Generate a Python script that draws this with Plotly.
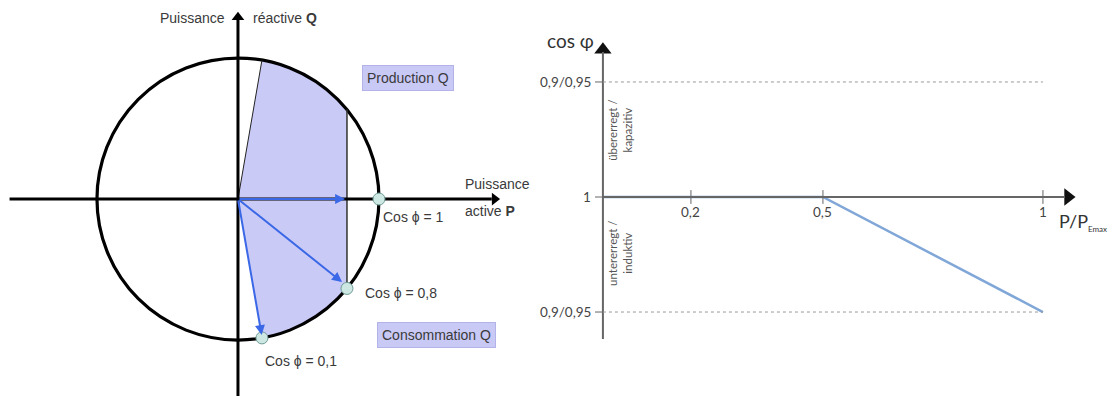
import numpy as np
import plotly.graph_objects as go

# ── left diagram data (unit circle = apparent power S) ──────────────────────
point_labels = ["Cos ϕ = 1", "Cos ϕ = 0,8", "Cos ϕ = 0,1"]
point_p = [1.0, 0.773, 0.17]          # active power P of the operating points
point_q = [0.0, -0.634, -0.985]       # reactive power Q of the operating points
vector_p = [0.76, 0.738, 0.168]       # tips of the blue vectors
vector_q = [0.0, -0.589, -0.965]
limit_p = 0.773                       # vertical P limit line
upper_p, upper_q = 0.17, 0.985        # upper edge of the production zone

# ── right diagram data (cos phi characteristic) ─────────────────────────────
ratio = [0, 0.5, 1]                   # P / P_Emax
cosphi_level = [0, 0, -1]             # 0 -> cos phi 1, -1 -> 0,9/0,95 inductive
x_ticks = [0.2, 0.5, 1]
x_tick_labels = ["0,2", "0,5", "1"]
y_levels = [1, 0, -1]
y_level_labels = ["0,9/0,95", "1", "0,9/0,95"]

LEFT_FONT = dict(family="Liberation Sans, Arial", size=14, color="#3a3a3a")
RIGHT_FONT = dict(family="Lato, Open Sans", size=13.5, color="#444")
W, H = 1108, 388           # page body has an 8px margin
SPLIT = 532 / W

fig = go.Figure()

# shaded operating zone: origin -> upper edge -> arc -> limit line -> arc -> cos 0.1
a_top = np.arctan2(upper_q, upper_p)
a_lim = np.arctan2(np.sqrt(1 - limit_p ** 2), limit_p)
a_bot = np.arctan2(point_q[2], point_p[2])
arc1 = np.linspace(a_top, a_lim, 40)
arc2 = np.linspace(-a_lim, a_bot, 40)
zone_x = np.concatenate([[0], np.cos(arc1), np.cos(arc2), [0]])
zone_y = np.concatenate([[0], np.sin(arc1), np.sin(arc2), [0]])
fig.add_trace(go.Scatter(x=zone_x, y=zone_y, mode="lines", fill="toself",
                         fillcolor="#cacaf7", line=dict(width=0),
                         hoverinfo="skip", xaxis="x", yaxis="y"))

shapes = [
    dict(type="circle", xref="x", yref="y", x0=-1, x1=1, y0=-1, y1=1,
         line=dict(color="black", width=3.2)),
    dict(type="line", xref="x", yref="y", x0=0, y0=0, x1=upper_p, y1=upper_q,
         line=dict(color="#222", width=1)),
    dict(type="line", xref="x", yref="y", x0=limit_p, x1=limit_p,
         y0=-np.sqrt(1 - limit_p ** 2), y1=np.sqrt(1 - limit_p ** 2),
         line=dict(color="#333", width=1.5)),
    # axes
    dict(type="line", xref="x", yref="y", x0=-1.62, x1=1.80, y0=0, y1=0,
         line=dict(color="black", width=3)),
    dict(type="line", xref="x", yref="y", x0=0, x1=0, y0=-1.40, y1=1.27,
         line=dict(color="black", width=3)),
    # right diagram axes
    dict(type="line", xref="x2", yref="y2", x0=0, x1=0, y0=-1.235, y1=1.26,
         line=dict(color="#666", width=2)),
    dict(type="line", xref="x2", yref="y2", x0=0, x1=1.05, y0=0, y1=0,
         line=dict(color="#666", width=2)),
]
for lv in (1, -1):
    shapes.append(dict(type="line", xref="x2", yref="y2", x0=0, x1=1, y0=lv, y1=lv,
                       line=dict(color="#999", width=1, dash="dot")))
for lv in y_levels:
    shapes.append(dict(type="line", xref="x2", yref="y2", x0=-0.018, x1=0, y0=lv, y1=lv,
                       line=dict(color="#666", width=1)))
for t in x_ticks:
    shapes.append(dict(type="line", xref="x2", yref="y2", x0=t, x1=t, y0=-0.06, y1=0.06,
                       line=dict(color="#666", width=1)))

# operating points, drawn over the circle line
for px, qy in zip(point_p, point_q):
    shapes.append(dict(type="circle", xref="x", yref="y",
                       xsizemode="pixel", ysizemode="pixel", xanchor=px, yanchor=qy,
                       x0=-6, x1=6, y0=-6, y1=6,
                       fillcolor="#cde8e3", line=dict(color="#6f9c96", width=1)))

# arrow heads
fig.add_trace(go.Scatter(x=[1.82], y=[0], mode="markers", xaxis="x", yaxis="y",
                         marker=dict(symbol="triangle-right", size=11, color="black"),
                         hoverinfo="skip"))
fig.add_trace(go.Scatter(x=[0], y=[1.29], mode="markers", xaxis="x", yaxis="y",
                         marker=dict(symbol="triangle-up", size=11, color="black"),
                         hoverinfo="skip"))
fig.add_trace(go.Scatter(x=[1.057], y=[0], mode="markers", xaxis="x2", yaxis="y2",
                         marker=dict(symbol="triangle-right", size=15, color="#111"),
                         hoverinfo="skip"))
fig.add_trace(go.Scatter(x=[0], y=[1.28], mode="markers", xaxis="x2", yaxis="y2",
                         marker=dict(symbol="triangle-up", size=15, color="#111"),
                         hoverinfo="skip"))

# characteristic curve
fig.add_trace(go.Scatter(x=ratio, y=cosphi_level, mode="lines", xaxis="x2", yaxis="y2",
                         line=dict(color="#80a7d8", width=2.5), hoverinfo="skip"))
fig.add_trace(go.Scatter(x=[0, x_ticks[0]], y=[0, 0], mode="lines", xaxis="x2", yaxis="y2",
                         line=dict(color="#888", width=1, dash="dash"), hoverinfo="skip"))

annotations = []
# blue vectors
for vx, vy in zip(vector_p, vector_q):
    annotations.append(dict(xref="x", yref="y", axref="x", ayref="y", x=vx, y=vy,
                            ax=0, ay=0, text="", showarrow=True, arrowhead=2,
                            arrowsize=1, arrowwidth=2, arrowcolor="#3b68e6"))

label_pos = [(1.014, -0.128), (0.887, -0.667), (0.177, -1.149)]
for lab, (lx, ly) in zip(point_labels, label_pos):
    annotations.append(dict(xref="x", yref="y", x=lx, y=ly, text=lab, showarrow=False,
                            xanchor="left", font=LEFT_FONT))

annotations += [
    dict(xref="x", yref="y", x=-0.078, y=1.284, text="Puissance", showarrow=False,
         xanchor="right", font=LEFT_FONT),
    dict(xref="x", yref="y", x=0.092, y=1.284, text="réactive <b>Q</b>", showarrow=False,
         xanchor="left", font=LEFT_FONT),
    dict(xref="x", yref="y", x=1.596, y=0.106, text="Puissance", showarrow=False,
         xanchor="left", font=LEFT_FONT),
    dict(xref="x", yref="y", x=1.596, y=-0.085, text="active <b>P</b>", showarrow=False,
         xanchor="left", font=LEFT_FONT),
    dict(xref="x", yref="y", x=1.206, y=0.858, text="Production Q", showarrow=False,
         font=LEFT_FONT, bgcolor="#c9c9f6", bordercolor="#b3b3ea", borderwidth=1,
         borderpad=4),
    dict(xref="x", yref="y", x=1.411, y=-0.965, text="Consommation Q", showarrow=False,
         font=LEFT_FONT, bgcolor="#c9c9f6", bordercolor="#b3b3ea", borderwidth=1,
         borderpad=4),
]

# right diagram texts
for lv, lab in zip(y_levels, y_level_labels):
    annotations.append(dict(xref="x2", yref="y2", x=-0.022, y=lv, text=lab, showarrow=False,
                            xanchor="right", font=RIGHT_FONT))
for t, lab in zip(x_ticks, x_tick_labels):
    annotations.append(dict(xref="x2", yref="y2", x=t, y=-0.13, text=lab, showarrow=False,
                            font=RIGHT_FONT))
annotations += [
    dict(xref="x2", yref="y2", x=-0.016, y=1.357, text="cos φ", showarrow=False,
         xanchor="right", font=dict(family="Lato, Open Sans", size=19, color="#333")),
    dict(xref="x2", yref="y2", x=1.033, y=-0.22,
         text="P/P<sub><span style='font-size:8px'>Emax</span></sub>", showarrow=False,
         xanchor="left", font=dict(family="Lato, Open Sans", size=18, color="#333")),
    dict(xref="x2", yref="y2", x=0.04, y=0.58, text="übererregt /<br>kapazitiv",
         showarrow=False, textangle=-90,
         font=dict(family="Lato, Open Sans", size=11.5, color="#555")),
    dict(xref="x2", yref="y2", x=0.04, y=-0.49, text="untererregt /<br>induktiv",
         showarrow=False, textangle=-90,
         font=dict(family="Lato, Open Sans", size=11.5, color="#555")),
]

fig.update_layout(
    width=W, height=H,
    margin=dict(l=0, r=0, t=0, b=0),
    paper_bgcolor="white", plot_bgcolor="white",
    showlegend=False,
    xaxis=dict(domain=[0, SPLIT], range=[-1.631, 2.142], visible=False, fixedrange=True),
    yaxis=dict(domain=[0, 1], range=[-1.397, 1.355], visible=False, fixedrange=True),
    xaxis2=dict(domain=[SPLIT, 1], range=[-0.143, 1.166], visible=False, fixedrange=True),
    yaxis2=dict(domain=[0, 1], range=[-1.730, 1.643], visible=False, fixedrange=True,
                anchor="x2"),
    shapes=shapes,
    annotations=annotations,
)

fig.write_html("out.html")
